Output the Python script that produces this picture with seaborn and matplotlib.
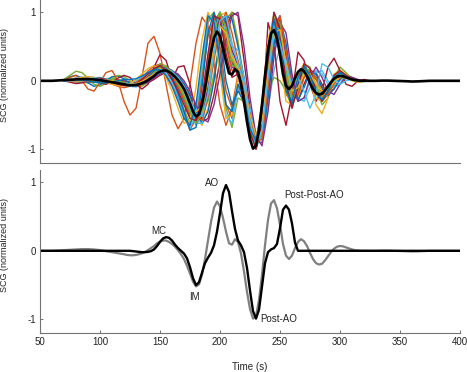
import numpy as np
import pandas as pd
import matplotlib
matplotlib.use("Agg")
import matplotlib.pyplot as plt
import seaborn as sns

# time axis of the averaged / template beats (s)
time_s = np.r_[np.arange(50, 121, 5), np.arange(122.5, 320.1, 2.5), np.arange(325, 401, 5)]

# ensemble average (black in top panel, grey in bottom panel)
mean_beat = [
    0.0, 0.0, 0.0, 0.005, 0.01, 0.015, 0.02, 0.025, 0.025, 0.02, 0.01, -0.005, -0.02, -0.035, -0.05,
    -0.06, -0.065, -0.065, -0.06, -0.05, -0.035, -0.015, 0.01,
    0.04, 0.07, 0.11, 0.135, 0.15, 0.15, 0.13, 0.10,
    0.06, 0.01, -0.05, -0.12, -0.22, -0.33, -0.45, -0.52,
    -0.49, -0.35, -0.12, 0.15, 0.42, 0.63, 0.72, 0.65,
    0.48, 0.28, 0.11, 0.09, 0.17, 0.13, -0.04, -0.30,
    -0.60, -0.85, -0.99, -0.95, -0.72, -0.35, 0.08, 0.45,
    0.69, 0.74, 0.62, 0.38, 0.10, -0.07, -0.12, -0.07,
    0.04, 0.13, 0.17, 0.14, 0.07, -0.03, -0.12, -0.18,
    -0.20, -0.19, -0.14, -0.08, -0.02, 0.03, 0.06, 0.07,
    0.065, 0.05, 0.035, 0.02, 0.01, 0.005, 0.0, 0.0,
    0.0, 0.0, 0.003, 0.003, 0.0, -0.003, -0.006, -0.01, -0.008, -0.004, 0.0, 0.0, 0.0, 0.0, 0.0, 0.0,
]

# fiducial template (black in bottom panel)
template_beat = [
    0.0, 0.0, 0.0, 0.0, 0.0, 0.0, 0.0, 0.0, 0.0, 0.0, 0.0, 0.0, 0.0, 0.0, 0.0,
    0.0, 0.0, -0.005, -0.01, -0.015, -0.02, -0.02, -0.015,
    -0.005, 0.02, 0.07, 0.13, 0.18, 0.20, 0.19, 0.15,
    0.09, 0.04, 0.0, -0.04, -0.11, -0.24, -0.40, -0.50,
    -0.46, -0.32, -0.18, -0.10, -0.03, 0.08, 0.28, 0.55,
    0.84, 0.96, 0.86, 0.58, 0.32, 0.15, 0.08, -0.02,
    -0.25, -0.58, -0.88, -0.99, -0.86, -0.52, -0.18, -0.02,
    0.02, 0.04, 0.10, 0.33, 0.60, 0.66, 0.60, 0.40,
    0.12, 0.0, 0.0, 0.0, 0.0, 0.0, 0.0, 0.0,
    0.0, 0.0, 0.0, 0.0, 0.0, 0.0, 0.0, 0.0,
    0.0, 0.0, 0.0, 0.0, 0.0, 0.0, 0.0, 0.0,
    0.0, 0.0, 0.0, 0.0, 0.0, 0.0, 0.0, 0.0, 0.0, 0.0, 0.0, 0.0, 0.0, 0.0, 0.0, 0.0,
]

# individual beats of the ensemble (top panel), sampled every 5 s from 70 to 330 s
beat_time = np.arange(70, 331, 5)
beats = [
    [0.00, 0.01, 0.02, 0.03, 0.03, 0.02, 0.01, 0.00, -0.02, -0.04,
     -0.06, -0.07, -0.06, -0.02, 0.05, 0.13, 0.18, 0.17, 0.10, -0.02,
     -0.20, -0.42, -0.58, -0.40, 0.15, 0.80, 1.00, 0.70, 0.30, 0.25,
     -0.10, -0.65, -0.98, -0.55, 0.35, 0.95, 0.65, 0.00, -0.15, 0.10,
     0.18, 0.02, -0.18, -0.22, -0.10, 0.04, 0.08, 0.05, 0.02, 0.00,
     0.00, 0.00, 0.00],
    [0.00, 0.02, 0.04, 0.05, 0.04, 0.02, 0.00, -0.02, -0.05, -0.08,
     -0.10, -0.08, -0.03, 0.05, 0.14, 0.22, 0.24, 0.15, 0.00, -0.20,
     -0.45, -0.68, -0.55, 0.05, 0.85, 1.00, 0.45, -0.35, -0.55, -0.10,
     -0.35, -0.80, -0.92, -0.30, 0.55, 0.85, 0.40, -0.20, -0.30, 0.05,
     0.22, 0.10, -0.15, -0.30, -0.20, 0.00, 0.12, 0.08, 0.02, -0.02,
     0.00, 0.00, 0.00],
    [0.00, -0.01, -0.02, -0.02, -0.01, 0.00, 0.02, 0.03, 0.02, 0.00,
     -0.03, -0.05, -0.06, -0.05, -0.02, 0.04, 0.10, 0.15, 0.14, 0.08,
     -0.05, -0.25, -0.50, -0.65, -0.40, 0.05, 0.55, 0.90, 1.00, 0.60,
     0.00, -0.55, -0.90, -0.80, -0.10, 0.65, 0.85, 0.35, -0.20, -0.25,
     0.05, 0.18, 0.05, -0.15, -0.20, -0.05, 0.06, 0.07, 0.03, 0.00,
     0.00, 0.00, 0.00],
    [0.00, 0.00, 0.01, 0.01, 0.02, 0.02, 0.02, 0.01, -0.01, -0.03,
     -0.05, -0.06, -0.05, -0.01, 0.06, 0.12, 0.15, 0.14, 0.07, -0.05,
     -0.22, -0.40, -0.48, -0.30, 0.20, 0.70, 0.85, 0.55, 0.20, 0.15,
     -0.15, -0.60, -0.85, -0.50, 0.30, 0.75, 0.55, 0.05, -0.12, 0.08,
     0.15, 0.05, -0.12, -0.18, -0.10, 0.02, 0.06, 0.04, 0.01, 0.00,
     0.00, 0.00, 0.00],
    [0.00, 0.01, 0.00, -0.02, -0.03, -0.02, 0.00, 0.03, 0.04, 0.02,
     -0.02, -0.06, -0.08, -0.04, 0.05, 0.16, 0.25, 0.22, 0.08, -0.15,
     -0.42, -0.62, -0.45, 0.15, 0.90, 1.00, 0.35, -0.40, -0.68, -0.25,
     -0.30, -0.72, -0.95, -0.45, 0.45, 1.00, 0.55, -0.15, -0.40, -0.05,
     0.25, 0.20, -0.10, -0.35, -0.25, 0.05, 0.20, 0.12, 0.03, -0.02,
     -0.01, 0.00, 0.00],
    [0.00, 0.00, -0.01, -0.02, -0.02, -0.01, 0.01, 0.02, 0.01, -0.02,
     -0.05, -0.08, -0.09, -0.06, 0.02, 0.12, 0.20, 0.20, 0.13, 0.00,
     -0.18, -0.45, -0.65, -0.50, 0.05, 0.75, 1.00, 0.80, 0.35, 0.15,
     -0.15, -0.70, -1.00, -0.70, 0.20, 1.00, 0.80, 0.10, -0.25, 0.00,
     0.22, 0.08, -0.20, -0.30, -0.15, 0.05, 0.12, 0.07, 0.02, 0.00,
     0.00, 0.00, 0.00],
    [0.00, 0.01, 0.01, 0.00, -0.01, -0.02, -0.02, -0.01, 0.00, 0.01,
     0.00, -0.02, -0.04, -0.05, -0.03, 0.02, 0.08, 0.12, 0.12, 0.06,
     -0.05, -0.20, -0.42, -0.60, -0.55, -0.20, 0.30, 0.75, 1.00, 0.95,
     0.30, -0.40, -0.85, -0.85, -0.25, 0.50, 0.80, 0.45, -0.10, -0.30,
     -0.05, 0.15, 0.12, -0.05, -0.18, -0.12, 0.02, 0.08, 0.05, 0.01,
     0.00, 0.00, 0.00],
    [0.02, 0.06, 0.08, 0.04, -0.03, -0.08, -0.06, 0.00, 0.06, 0.07,
     0.03, -0.04, -0.08, -0.05, 0.03, 0.12, 0.18, 0.15, 0.05, -0.10,
     -0.30, -0.52, -0.60, -0.35, 0.25, 0.85, 1.00, 0.65, 0.25, 0.20,
     -0.10, -0.68, -0.95, -0.60, 0.25, 0.88, 0.70, 0.05, -0.20, 0.05,
     0.18, 0.05, -0.15, -0.25, -0.15, 0.00, 0.10, 0.08, 0.03, 0.00,
     0.00, 0.00, 0.00],
    [0.00, 0.00, 0.01, 0.02, 0.02, 0.01, 0.00, -0.01, -0.03, -0.05,
     -0.06, -0.05, -0.02, 0.04, 0.10, 0.15, 0.15, 0.08, -0.05, -0.25,
     -0.50, -0.72, -0.55, 0.00, 0.65, 0.90, 0.50, -0.15, -0.40, -0.05,
     -0.25, -0.65, -0.85, -0.40, 0.40, 0.75, 0.45, -0.05, -0.25, 0.00,
     0.15, 0.10, -0.05, -0.20, -0.15, 0.00, 0.08, 0.06, 0.02, 0.00,
     0.00, 0.00, 0.00],
    [0.00, 0.00, 0.00, 0.01, 0.01, 0.01, 0.00, -0.01, -0.03, -0.05,
     -0.07, -0.07, -0.05, -0.01, 0.05, 0.12, 0.18, 0.19, 0.14, 0.05,
     -0.10, -0.32, -0.55, -0.55, -0.10, 0.50, 0.95, 1.00, 0.55, 0.20,
     -0.05, -0.55, -0.95, -0.75, 0.05, 0.85, 0.90, 0.25, -0.25, -0.15,
     0.12, 0.16, -0.05, -0.22, -0.18, -0.02, 0.08, 0.06, 0.02, 0.00,
     0.00, 0.00, 0.00],
    [0.00, -0.01, -0.01, 0.00, 0.01, 0.02, 0.02, 0.01, 0.00, -0.02,
     -0.04, -0.06, -0.06, -0.04, 0.00, 0.06, 0.12, 0.15, 0.12, 0.04,
     -0.10, -0.30, -0.52, -0.50, -0.05, 0.60, 0.95, 0.85, 0.40, 0.10,
     -0.10, -0.40, -0.80, -0.85, -0.40, 0.15, 0.50, 0.45, 0.05, -0.25,
     -0.30, -0.10, 0.12, 0.15, 0.00, -0.10, -0.05, 0.03, 0.03, 0.00,
     0.00, 0.00, 0.00],
    [0.02, 0.08, 0.14, 0.12, 0.04, -0.05, -0.08, -0.04, 0.03, 0.08,
     0.06, 0.00, -0.06, -0.08, -0.02, 0.08, 0.16, 0.18, 0.10, -0.05,
     -0.25, -0.42, -0.50, -0.45, -0.30, 0.10, 0.60, 0.90, 1.00, 0.55,
     -0.15, -0.60, -0.80, -0.55, -0.15, 0.05, 0.00, -0.15, -0.22, -0.10,
     0.05, 0.10, 0.02, -0.10, -0.10, -0.02, 0.04, 0.04, 0.02, 0.00,
     0.00, 0.00, 0.00],
    [0.00, 0.05, 0.08, 0.00, -0.12, -0.15, -0.02, 0.12, 0.15, 0.00,
     -0.30, -0.50, -0.40, 0.05, 0.55, 0.65, 0.40, -0.05, -0.50, -0.70,
     -0.55, -0.05, 0.55, 0.93, 0.80, 0.25, -0.35, -0.65, -0.40, 0.10,
     -0.10, -0.70, -0.95, -0.55, 0.30, 0.85, 0.75, 0.10, -0.30, -0.20,
     0.05, 0.15, 0.05, -0.10, -0.12, -0.02, 0.05, 0.05, 0.02, 0.00,
     0.00, 0.00, 0.00],
    [0.00, 0.00, 0.01, 0.02, 0.02, 0.00, -0.03, -0.05, -0.02, 0.04,
     0.08, 0.05, -0.05, -0.12, -0.05, 0.20, 0.38, 0.30, 0.02, 0.20,
     0.22, -0.05, -0.45, -0.60, -0.20, 0.45, 0.95, 0.85, 0.30, 0.05,
     -0.25, -0.70, -0.95, -0.65, 0.85, 0.55, -0.30, -0.65, -0.20, 0.42,
     0.30, -0.05, -0.30, -0.15, 0.20, 0.33, 0.15, -0.05, -0.08, 0.00,
     0.02, 0.00, 0.00],
    [0.00, 0.01, 0.02, 0.02, 0.01, 0.00, -0.01, -0.02, -0.03, -0.04,
     -0.05, -0.06, -0.05, -0.02, 0.04, 0.11, 0.17, 0.18, 0.12, 0.00,
     -0.18, -0.40, -0.55, -0.42, 0.10, 0.70, 1.00, 0.75, 0.30, 0.18,
     -0.12, -0.62, -0.92, -0.58, 0.30, 0.90, 0.60, -0.05, -0.30, 0.00,
     0.20, 0.05, -0.35, -0.48, -0.25, 0.05, 0.15, 0.10, 0.03, 0.00,
     0.00, 0.00, 0.00],
    [0.00, 0.00, 0.00, -0.01, -0.01, 0.00, 0.01, 0.02, 0.00, -0.03,
     -0.06, -0.08, -0.07, -0.03, 0.04, 0.12, 0.19, 0.20, 0.15, 0.04,
     -0.12, -0.35, -0.58, -0.55, -0.10, 0.55, 0.95, 0.90, 0.45, 0.22,
     -0.05, -0.55, -0.92, -0.75, 0.05, 0.80, 0.95, 0.35, -0.15, -0.05,
     0.15, 0.12, -0.10, -0.25, -0.15, 0.00, 0.08, 0.06, 0.02, 0.00,
     0.00, 0.00, 0.00],
    [0.00, 0.02, 0.04, 0.05, 0.06, 0.05, 0.03, 0.00, -0.03, -0.05,
     -0.05, -0.04, 0.00, 0.06, 0.12, 0.18, 0.20, 0.12, -0.02, -0.22,
     -0.50, -0.70, -0.48, 0.20, 0.92, 0.95, 0.30, -0.50, -0.62, -0.10,
     -0.20, -0.60, -0.88, -0.50, 0.20, 0.52, 0.50, 0.30, -0.05, -0.30,
     -0.25, 0.00, 0.15, 0.10, -0.05, -0.08, 0.00, 0.04, 0.02, 0.00,
     0.00, 0.00, 0.00],
    [0.00, 0.00, 0.01, 0.01, 0.00, -0.01, -0.01, 0.00, 0.00, -0.02,
     -0.04, -0.05, -0.04, 0.00, 0.07, 0.15, 0.20, 0.18, 0.09, -0.05,
     -0.25, -0.48, -0.62, -0.42, 0.15, 0.80, 1.00, 0.62, 0.22, 0.22,
     -0.05, -0.60, -0.95, -0.62, 0.25, 0.92, 0.70, 0.05, -0.18, 0.06,
     0.16, 0.06, -0.14, -0.20, -0.12, 0.02, 0.07, 0.05, 0.02, 0.00,
     0.00, 0.00, 0.00],
    [0.00, 0.00, -0.01, -0.01, 0.00, 0.01, 0.01, 0.01, 0.00, -0.01,
     -0.03, -0.05, -0.06, -0.04, 0.01, 0.08, 0.14, 0.17, 0.15, 0.08,
     -0.04, -0.22, -0.45, -0.62, -0.45, 0.00, 0.60, 0.95, 0.90, 0.50,
     0.05, -0.50, -0.90, -0.90, -0.25, 0.55, 0.90, 0.55, -0.05, -0.28,
     -0.10, 0.12, 0.10, -0.10, -0.22, -0.12, 0.03, 0.08, 0.04, 0.00,
     0.00, 0.00, 0.00],
    [0.00, 0.01, 0.01, 0.00, -0.01, -0.02, -0.02, -0.01, -0.02, -0.04,
     -0.06, -0.07, -0.06, -0.02, 0.06, 0.14, 0.19, 0.17, 0.08, -0.08,
     -0.28, -0.50, -0.58, -0.32, 0.30, 0.90, 0.95, 0.50, 0.15, 0.18,
     -0.15, -0.70, -0.98, -0.60, 0.30, 0.95, 0.70, 0.00, -0.20, 0.05,
     0.20, 0.06, -0.18, -0.25, -0.12, 0.04, 0.10, 0.06, 0.02, 0.00,
     0.00, 0.00, 0.00],
    [0.00, 0.01, 0.03, 0.05, 0.06, 0.05, 0.02, -0.02, -0.05, -0.07,
     -0.07, -0.04, 0.02, 0.10, 0.18, 0.22, 0.18, 0.05, -0.15, -0.40,
     -0.62, -0.58, -0.10, 0.60, 1.00, 0.80, 0.10, -0.55, -0.50, 0.05,
     -0.20, -0.75, -0.90, -0.35, 0.60, 0.95, 0.35, -0.30, -0.35, 0.10,
     0.25, 0.05, -0.25, -0.30, -0.10, 0.10, 0.15, 0.05, 0.00, -0.02,
     0.00, 0.00, 0.00],
    [0.00, 0.00, 0.00, 0.00, 0.01, 0.01, 0.01, 0.00, -0.02, -0.04,
     -0.05, -0.06, -0.06, -0.05, -0.02, 0.04, 0.10, 0.14, 0.14, 0.10,
     0.00, -0.15, -0.35, -0.55, -0.60, -0.35, 0.10, 0.60, 0.95, 1.00,
     0.50, -0.25, -0.80, -0.95, -0.45, 0.35, 0.85, 0.70, 0.10, -0.30,
     -0.25, 0.05, 0.20, 0.05, -0.15, -0.20, -0.05, 0.06, 0.05, 0.02,
     0.00, 0.00, 0.00],
    [0.00, 0.00, -0.01, 0.00, 0.02, 0.04, 0.05, 0.03, 0.00, -0.03,
     -0.06, -0.08, -0.07, -0.03, 0.03, 0.10, 0.16, 0.18, 0.14, 0.04,
     -0.15, -0.40, -0.62, -0.62, -0.20, 0.45, 0.85, 0.75, 0.50, 0.45,
     0.05, -0.55, -0.95, -0.75, 0.10, 0.80, 0.75, 0.15, -0.25, -0.10,
     0.15, 0.10, -0.10, -0.20, -0.12, 0.00, 0.06, 0.05, 0.02, 0.00,
     0.00, 0.00, 0.00],
    [0.00, 0.01, 0.01, 0.01, 0.00, -0.01, -0.02, -0.02, -0.02, -0.03,
     -0.05, -0.06, -0.05, -0.01, 0.06, 0.14, 0.22, 0.20, 0.06, -0.18,
     -0.45, -0.72, -0.68, -0.10, 0.70, 1.00, 0.70, 0.00, -0.35, -0.15,
     -0.30, -0.75, -0.95, -0.50, 0.35, 0.90, 0.60, -0.05, -0.35, -0.05,
     0.22, 0.12, -0.15, -0.28, -0.18, 0.02, 0.12, 0.08, 0.02, 0.00,
     0.00, 0.00, 0.00],
    [0.00, 0.02, 0.03, 0.02, 0.00, -0.02, -0.03, -0.01, 0.01, 0.00,
     -0.03, -0.06, -0.07, -0.04, 0.03, 0.12, 0.20, 0.21, 0.12, -0.04,
     -0.22, -0.45, -0.62, -0.48, 0.05, 0.70, 1.00, 0.78, 0.32, 0.12,
     -0.20, -0.72, -1.00, -0.70, 0.15, 0.90, 0.85, 0.18, -0.28, -0.12,
     0.18, 0.15, -0.08, -0.25, -0.20, -0.02, 0.10, 0.08, 0.02, 0.00,
     0.00, 0.00, 0.00],
    [0.00, 0.00, 0.00, 0.01, 0.02, 0.03, 0.02, 0.00, -0.03, -0.05,
     -0.06, -0.06, -0.04, 0.00, 0.05, 0.10, 0.14, 0.15, 0.12, 0.05,
     -0.08, -0.28, -0.50, -0.58, -0.25, 0.30, 0.80, 1.00, 0.70, 0.30,
     -0.05, -0.50, -0.90, -0.85, -0.10, 0.70, 0.95, 0.45, -0.10, -0.20,
     0.05, 0.15, 0.02, -0.18, -0.20, -0.05, 0.06, 0.07, 0.03, 0.00,
     0.00, 0.00, 0.00],
    [0.00, -0.02, -0.04, -0.03, 0.00, 0.03, 0.04, 0.02, -0.02, -0.05,
     -0.07, -0.07, -0.04, 0.02, 0.10, 0.18, 0.22, 0.16, 0.02, -0.15,
     -0.35, -0.55, -0.58, -0.25, 0.40, 0.95, 0.90, 0.40, 0.05, 0.10,
     -0.20, -0.75, -1.00, -0.60, 0.30, 1.00, 0.75, -0.05, -0.40, -0.10,
     0.25, 0.18, -0.15, -0.30, -0.15, 0.08, 0.15, 0.08, 0.02, 0.00,
     0.00, 0.00, 0.00],
    [0.00, 0.00, 0.00, 0.00, 0.00, 0.01, 0.01, 0.01, 0.00, -0.02,
     -0.04, -0.05, -0.04, -0.01, 0.04, 0.10, 0.14, 0.14, 0.09, 0.00,
     -0.15, -0.32, -0.45, -0.38, 0.00, 0.50, 0.80, 0.70, 0.35, 0.20,
     -0.05, -0.50, -0.80, -0.60, 0.10, 0.70, 0.75, 0.25, -0.15, -0.10,
     0.10, 0.10, -0.05, -0.15, -0.12, -0.02, 0.05, 0.04, 0.01, 0.00,
     0.00, 0.00, 0.00],
    [0.00, 0.00, 0.01, 0.02, 0.03, 0.03, 0.02, 0.00, -0.02, -0.03,
     -0.04, -0.05, -0.05, -0.03, 0.01, 0.07, 0.12, 0.14, 0.12, 0.05,
     -0.08, -0.28, -0.48, -0.52, -0.20, 0.40, 0.88, 0.95, 0.55, 0.25,
     -0.05, -0.60, -0.92, -0.72, 0.05, 0.75, 0.55, 0.20, -0.05, 0.05,
     -0.15, -0.40, -0.20, 0.25, 0.20, 0.02, -0.05, 0.00, 0.02, 0.00,
     0.00, 0.00, 0.00],
    [0.00, 0.01, 0.02, 0.01, 0.00, -0.02, -0.03, -0.03, -0.02, 0.00,
     0.02, 0.02, 0.03, 0.07, 0.12, 0.16, 0.16, 0.08, -0.08, -0.30,
     -0.55, -0.65, -0.35, 0.35, 0.95, 0.85, 0.25, -0.35, -0.45, -0.05,
     -0.25, -0.70, -0.88, -0.40, 0.50, 0.90, 0.45, -0.15, -0.30, 0.05,
     0.20, 0.08, -0.18, -0.28, -0.15, 0.05, 0.12, 0.06, 0.02, 0.00,
     0.00, 0.00, 0.00],
]

# annotations of the bottom panel: label, time, value
point_labels = ["MC", "AO", "IM", "Post-AO", "Post-Post-AO"]
point_time = [149, 193.5, 179, 248.5, 278.5]
point_value = [0.29, 0.99, -0.67, -1.0, 0.82]

matlab = ["#0072BD", "#D95319", "#EDB120", "#7E2F8E", "#77AC30", "#4DBEEE", "#A2142F"]
color_idx = [0, 1, 2, 3, 4, 5, 6, 0, 1, 2, 5, 4, 1, 6, 2,
             3, 5, 4, 0, 1, 2, 3, 5, 0, 4, 1, 6, 2, 5, 0]
beat_colors = [matlab[i] for i in color_idx]

sns.set_style("ticks")
plt.rcParams["font.family"] = ["Liberation Sans", "DejaVu Sans"]
plt.rcParams["axes.unicode_minus"] = False
plt.rcParams["xtick.direction"] = "in"
plt.rcParams["ytick.direction"] = "in"

df = pd.DataFrame({
    "time": np.tile(beat_time, len(beats)),
    "scg": np.concatenate(beats),
    "beat": np.repeat([f"b{k:02d}" for k in range(len(beats))], len(beat_time)),
})

fig = plt.figure(figsize=(4.67, 3.72), dpi=100)
ax1 = fig.add_axes([40 / 467, 1 - 163 / 372, 420 / 467, 163 / 372])
ax2 = fig.add_axes([40 / 467, 1 - 333 / 372, 420 / 467, 163 / 372])

sns.lineplot(data=df, x="time", y="scg", hue="beat", palette=beat_colors, legend=False,
             estimator=None, lw=1.0, ax=ax1)
sns.lineplot(x=time_s, y=mean_beat, color="black", lw=1.9, estimator=None, ax=ax1)

sns.lineplot(x=time_s, y=mean_beat, color="0.5", lw=1.6, estimator=None, ax=ax2)
sns.lineplot(x=time_s, y=template_beat, color="black", lw=1.7, estimator=None, ax=ax2)
for lab, t, v in zip(point_labels, point_time, point_value):
    ax2.text(t, v, lab, ha="center", va="center", fontsize=7, color="#222222")

for ax in (ax1, ax2):
    ax.set_xlim(50, 400)
    ax.set_ylim(-1.2, 1.18)
    ax.set_yticks([-1, 0, 1])
    ax.set_yticklabels(["-1", "0", "1"])
    ax.tick_params(labelsize=7, length=2.5, width=0.6, color="0.35", labelcolor="#222222", pad=3)
    for s in ("left", "bottom"):
        ax.spines[s].set_color("0.45")
        ax.spines[s].set_linewidth(0.8)
    sns.despine(ax=ax)
    ax.set_ylabel("SCG (normalized units)", fontsize=6.5, color="#222222")
    ax.yaxis.set_label_coords(-0.073, 0.54)

ax1.set_xticks([])
ax1.set_xlabel("")
ax2.set_xticks([50, 100, 150, 200, 250, 300, 350, 400])
ax2.set_xlabel("Time (s)", fontsize=7, color="#222222")
ax2.xaxis.set_label_coords(0.5, -0.18)

fig.savefig("out.png", dpi=100)
